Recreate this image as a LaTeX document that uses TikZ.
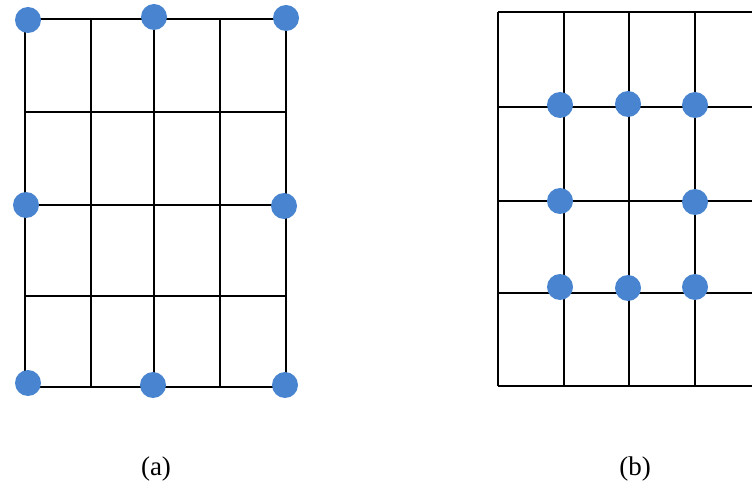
\documentclass[tikz,border=0pt]{standalone}
\usepackage{fontspec}
\setmainfont{Liberation Serif}
\definecolor{dotblue}{RGB}{72,132,208}
\tikzset{
  gridline/.style={line width=1.9pt, black},
  dot/.style={circle, fill=dotblue, minimum size=26pt, inner sep=0pt},
  caption/.style={font=\fontsize{27}{30}\selectfont, inner sep=0pt}
}
\begin{document}
\begin{tikzpicture}[x=1pt,y=-1pt]
\useasboundingbox (0,0) rectangle (752,486);
% grid (a)
\foreach \x in {25,91,154,220,286} \draw[gridline] (\x,19) -- (\x,387);
\foreach \y in {19,112,205,296,387} \draw[gridline] (25,\y) -- (286,\y);
% grid (b)
\foreach \x in {498,564,629,695} \draw[gridline] (\x,12) -- (\x,386);
\foreach \y in {12,107,201,293,386} \draw[gridline] (498,\y) -- (752,\y);
% dots (a)
\node[dot] (a1) at (28,20) {};
\node[dot] (a2) at (154,17) {};
\node[dot] (a3) at (286,18) {};
\node[dot] (a4) at (26,205) {};
\node[dot] (a5) at (284,206) {};
\node[dot] (a6) at (28,383) {};
\node[dot] (a7) at (153,385) {};
\node[dot] (a8) at (285,385) {};
% dots (b)
\node[dot] (b1) at (560,105) {};
\node[dot] (b2) at (628,104) {};
\node[dot] (b3) at (695,105) {};
\node[dot] (b4) at (560,201) {};
\node[dot] (b5) at (695,202) {};
\node[dot] (b6) at (560,287) {};
\node[dot] (b7) at (628,288) {};
\node[dot] (b8) at (695,287) {};
% captions
\node[caption] (ca) at (156,469) {(a)};
\node[caption] (cb) at (635,469) {(b)};
\end{tikzpicture}
\end{document}
